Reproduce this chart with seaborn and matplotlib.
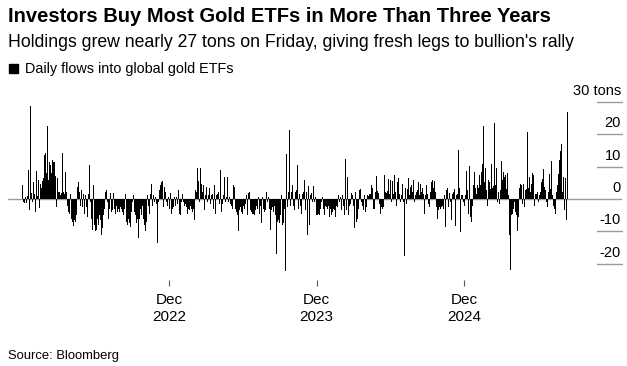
import numpy as np
import pandas as pd
import matplotlib
matplotlib.use("Agg")
import matplotlib.pyplot as plt
import matplotlib.dates as mdates
import matplotlib.transforms as mtransforms
from matplotlib.patches import Rectangle
import seaborn as sns

# ---------------- data ----------------
start_date = "2021-12-03"
end_date = "2025-08-15"

flows_2022 = [4.3, -0.8, -1.2, 0.8, -1.3, 1.0, 9.0, -3.4, 28.8, 2.0,
              -1.0, 5.2, 1.5, -4.1, 8.7, 1.0, 5.9, -2.7, 4.8, 3.5,
              5.6, 6.5, 13.6, 14.1, 8.0, 22.6, 6.0, 11.5, 10.5, 8.0,
              12.0, 11.5,
              11.5, 7.0, -2.4, 6.5, 2.3, 2.3, 1.3, 1.8, 14.1, 2.3,
              1.7, 8.5, 2.3, -2.0, -4.0, -4.5, 1.7, -6.2, -7.0, -8.2,
              -6.5, -7.0, -5.0, 3.8, 5.2, 2.3, -2.0, 2.8, -2.5, 1.7,
              -4.5, 1.2, -2.5, -5.5, 1.7, 10.5, -1.0, -6.0, -9.5, 4.5,
              -8.0, -10.0, -9.5, -6.0, -8.0, -5.0, -6.5, -11.0, -9.0, -5.0,
              -3.0, 2.3, 2.8, -1.0, -6.0, -3.0, 1.8, -4.0, -3.5, 2.0,
              -3.0, -4.5, -2.0, -4.0, -3.0, -4.0, -2.5, -3.0, -4.0, -5.0,
              -3.0, 1.7, -7.0, -8.0, -6.0, -7.5, -8.5, -4.0, -1.0, 1.2,
              -4.0, -5.0, -7.5, -6.0, -12.0, -6.0, -3.0, -5.0, -2.0, -6.0,
              -8.0, -10.0, -7.0, 1.2, -2.0, -4.5, 1.7, 4.8, -2.0, 1.2,
              -1.0, 0.7, -1.5, -13.5, -1.0, 2.8, 4.3, 5.2, 5.6, -2.5,
              3.8, 2.3, -1.0]

flows_2023 = [-2.0, 0.7, -3.0, 2.0, -4.5, -3.0, -2.5, 0.7, -2.0, 0.7,
              -1.5, 2.8, -4.5, -5.0, -1.0, 1.7, -1.0, -2.0, -1.5, -2.5,
              -4.5, -3.0, -3.5, -2.0, -3.0, -4.0, -3.0, -6.5, 2.8, 2.3,
              9.5, 5.6, -1.0, 9.5, 4.8, 2.3, 4.3, -3.5, 1.2, 3.8,
              -1.0, 1.2, 3.5, -1.5, 1.2, 1.7, -3.0, 4.3, -4.5, 1.2,
              1.7, 2.3, -1.5, 9.0, -4.0, -1.5, 1.2, 6.9, -1.0, 0.7,
              6.9, -1.0, 0.7, -1.5, -2.0, -3.0, 4.3,
              3.8, -3.0, -4.0, -5.0, -9.8, -3.5, -2.5, -4.0, -4.5, -2.0,
              -3.0, -1.5, 1.4, -5.0, 1.8, 2.3, -3.5, -4.0, -4.5, -4.5,
              -5.0, -3.5, -2.0, -3.0, 0.7, -4.5, -2.0, -7.5, 0.7, -3.0,
              -4.0, -3.5, 2.3, -1.0, 0.7, -3.0, -9.5, -3.5, -2.5, -4.0,
              -2.0, -5.0, -17.0, -7.0, -6.5, -7.5, -5.0, 1.2, -8.0, -7.5,
              -3.0, -22.3, 13.8, -2.5, 2.3, 21.3, -2.0, 2.3, 4.3, -2.0,
              -3.5, 2.3, 2.8, 10.5, -3.0, 1.7, -2.0, -4.5, 1.7, 2.3]

flows_2024 = [5.9, -3.5, 2.3, -11.0, 4.1, -8.0, 1.2, 2.0, -1.0, 4.1,
              -1.0, 0.7, -5.0, -5.0, -4.5, -5.0, -3.0, -1.0, 0.7, -3.0,
              -5.0, -2.0, -2.5, -3.0, -2.0, -5.5, -3.0, -5.0, -4.0, -3.0,
              -3.5, -5.5, -2.0, -2.5, 1.2, -1.0, 0.7, -3.5, 1.2, -2.0,
              -5.0, 12.4, -3.5, 6.9, -5.0, -2.0, -1.5, 2.0, 1.2, -2.0,
              -9.0, 2.3, -7.0, -6.0, -3.0, 2.8, 3.1, -1.0, -2.0, -3.5,
              1.2, -4.0, -2.5, 1.2, 1.0, 1.6, 1.7, 4.3, 3.3, -3.0,
              -3.0, 2.3, 7.2, 2.5, 2.0, -1.5, -4.5, -2.5, -3.0, -2.5,
              7.4, 2.3, 2.0, 2.5, 6.2, 1.7, 5.9, -1.0, 5.6, 1.7,
              7.4, 2.3, -2.0, 5.2, 6.4, 1.5, -1.0, 1.2, 4.8, -1.0,
              -17.7, 3.5, -1.5, 3.1, 6.4, 1.2, 3.8, 4.3, 2.3, 5.9,
              -1.0, 1.2, 2.3, 2.8, 5.2, 1.2, 4.8, 2.3, 3.3, 1.7,
              -4.5, 1.2, 4.5, 1.7, -1.5, -2.5, 2.3, 5.4, 5.9, 3.3,
              5.6, 2.3, -2.5, -6.0, -3.5, -2.5, -3.0, -2.5, -2.0, -3.0]

flows_2025 = [1.2, -8.5, 2.8, 3.3, -2.5, 2.0, -1.0, -6.5, 1.7, 2.3,
              3.0, -8.2, 1.4, 1.7, 15.2, 3.3, -10.3, 1.4, 1.2, -1.0,
              -2.0, 1.4, 8.6, 2.8, -4.5, 10.3, -5.5, -7.0, -2.0, 4.5,
              8.5, 3.5, 1.7, 4.3, 3.3, 7.4, 4.3, 8.5, 10.7, 22.7,
              5.4, 9.7, 2.8, -2.0, 5.9, 5.4, 3.1, 10.7, 3.3, 4.1,
              23.4, 4.3, 9.5, -1.0, 2.3, -1.5, 2.8, 11.8, 5.9, 8.5,
              6.9, 7.4, 3.1, 8.2, 1.2, -11.0, -22.0, -5.0, -4.5, -3.0,
              -1.0, -4.0, -5.0, -10.0, -5.5, 3.3, 4.8, 4.5, -1.5, 4.8,
              -2.5, 2.8, 3.1, 20.8, 3.3, 6.9, 2.3, 4.8, 8.2, 7.4,
              -2.0, 1.7, 1.7, 2.3, -1.0, 1.4, 2.3, 5.4, 6.2, 9.3,
              3.8, 2.8, -1.0, -2.5, 2.3, 7.6, 3.1, 11.8, 1.2, -2.0,
              -3.0, -4.5, 2.3, 4.3, 7.9, 12.1, 14.8, 16.9, 2.3, 6.9,
              -3.5, 6.4, -6.5, 26.8]

ytick_values = [30, 20, 10, 0, -10, -20]
ytick_labels = ["30 tons", "20", "10", "0", "-10", "-20"]
xtick_dates = ["2022-12-01", "2023-12-01", "2024-12-01"]
xtick_labels = ["Dec\n2022", "Dec\n2023", "Dec\n2024"]

title = "Investors Buy Most Gold ETFs in More Than Three Years"
subtitle = "Holdings grew nearly 27 tons on Friday, giving fresh legs to bullion's rally"
legend_label = "Daily flows into global gold ETFs"
source = "Source: Bloomberg"

# ---------------- build frame ----------------
flows = flows_2022 + flows_2023 + flows_2024 + flows_2025
dates = pd.date_range(start_date, end_date, periods=len(flows))
df = pd.DataFrame({"date": mdates.date2num(dates), "flow": flows})

sns.set_theme(style="white")
plt.rcParams["font.family"] = ["Liberation Sans", "DejaVu Sans"]

W, H = 627, 366
fig = plt.figure(figsize=(W / 100, H / 100), dpi=100)
fig.patch.set_facecolor("white")


def fy(y):
    return 1 - y / H


ax = fig.add_axes([8 / W, fy(280), 614 / W, (280 - 102) / H])
ax.set_facecolor("white")

ax.axhline(0, color="#9b9b9b", lw=1.0, zorder=0)

sns.barplot(data=df, x="date", y="flow", native_scale=True, color="black",
            saturation=1, width=1.0, linewidth=0, errorbar=None, ax=ax,
            zorder=2)
for p in ax.patches:
    p.set_antialiased(False)

ax.set_ylim(-25, 30)
ax.set_xlim(df["date"].min() - 37, df["date"].max() + 134)
for s in ax.spines.values():
    s.set_visible(False)
ax.set_yticks([])
ax.set_xlabel("")
ax.set_ylabel("")

xt = mdates.date2num(pd.to_datetime(xtick_dates))
ax.set_xticks(xt)
ax.set_xticklabels(xtick_labels, fontsize=11, linespacing=1.25, color="black")
ax.tick_params(axis="x", bottom=True, length=4.5, width=0.8, color="#555555",
               pad=5, direction="out")

# right-side short gridlines + labels
ytrans = ax.get_yaxis_transform()
gx0 = (597 - 8) / 614
for v in ytick_values:
    if v != 0:
        ax.plot([gx0, 1.0], [v, v], transform=ytrans, color="#9b9b9b", lw=1.0,
                clip_on=False, zorder=1)
ltrans = mtransforms.offset_copy(ytrans, fig=fig, x=-1, y=7, units="dots")
for v, lab in zip(ytick_values, ytick_labels):
    ax.text(1.0, v, lab, transform=ltrans, ha="right", va="baseline",
            fontsize=10.5, color="black")

# header texts
fig.text(8 / W, fy(21.5), title, fontsize=14.5, fontweight="bold",
         va="baseline", color="black")
fig.text(8 / W, fy(47), subtitle, fontsize=12.7, va="baseline", color="black")
fig.patches.append(Rectangle((9 / W, fy(72.5)), 8.5 / W, 8.5 / H,
                             transform=fig.transFigure, color="black"))
fig.text(25 / W, fy(72.5), legend_label, fontsize=10.4, va="baseline",
         color="black")
fig.text(8 / W, fy(359.5), source, fontsize=9.4, va="baseline", color="black")

fig.savefig("out.png", dpi=100, facecolor="white")
